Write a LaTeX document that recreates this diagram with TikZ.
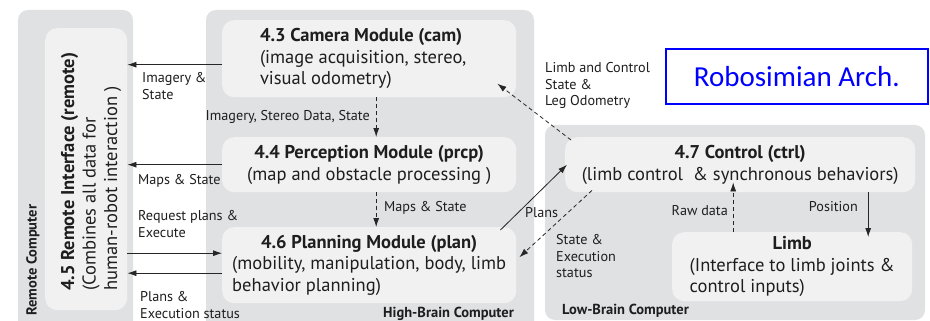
\documentclass[tikz,border=0pt]{standalone}
\usepackage{fontspec}
\setmainfont{PT Sans}
\newfontfamily\calib{Carlito}
\usetikzlibrary{arrows.meta,calc}
\definecolor{outerg}{HTML}{E0E1E3}
\definecolor{innerg}{HTML}{F1F1F2}
\definecolor{txt}{HTML}{1E1E1E}
\tikzset{
  outerbox/.style={fill=outerg,draw=none,rounded corners=10pt},
  innerbox/.style={fill=innerg,draw=none,rounded corners=12pt,anchor=north west,inner sep=0pt,text=txt},
  boxtext/.style={font=\fontsize{18.5}{21.5}\selectfont,text=txt},
  lbl/.style={font=\fontsize{14.2}{16.8}\selectfont,text=txt,inner sep=0pt,align=left},
  complbl/.style={font=\fontsize{14.5}{16}\selectfont\bfseries,text=txt,inner sep=0pt},
  arr/.style={draw=black!85,line width=0.8pt,-{Latex[length=9pt,width=6pt]}},
  darr/.style={arr,dash pattern=on 4pt off 3pt},
}
\newcommand\ttl[1]{{\bfseries #1}}
\begin{document}
\begin{tikzpicture}[x=1pt,y=-1pt]
\clip (0,0) rectangle (930,321);
\fill[white] (0,0) rectangle (930,321);
% outer computers
\path[outerbox] (18,10) rectangle (133,335);
\path[outerbox] (206,10) rectangle (534,335);
\path[outerbox] (545,125) rectangle (925,320);
% inner modules
\node[innerbox,minimum width=82pt,minimum height=282pt] (rem) at (45,28) {};
\node[boxtext,rotate=90,align=left,anchor=west,inner sep=0pt] (remt) at (91,291) {\ttl{4.5 Remote Interface (remote)}\\(Combines all data for\\human-robot interaction )};
\node[innerbox,minimum width=294pt,minimum height=77pt] (cam) at (222,20) {};
\node[boxtext,align=left] (camt) at ([xshift=-6pt]cam.center) {\ttl{4.3 Camera Module (cam)}\\(image acquisition, stereo,\\visual odometry)};
\node[innerbox,minimum width=294pt,minimum height=55pt] (prcp) at (222,137) {};
\node[boxtext,align=center] (prcpt) at (prcp.center) {\ttl{4.4 Perception Module (prcp)}\\(map and obstacle processing )};
\node[innerbox,minimum width=294pt,minimum height=76pt] (plan) at (222,227) {};
\node[boxtext] (plant) at (plan.center) {\begin{tabular}{@{}l@{}}\multicolumn{1}{@{}c@{}}{\ttl{4.6 Planning Module (plan)}}\\(mobility, manipulation, body, limb\\behavior planning)\end{tabular}};
\node[innerbox,minimum width=350pt,minimum height=55pt] (ctrl) at (565,137) {};
\node[boxtext,align=center] (ctrlt) at (ctrl.center) {\ttl{4.7 Control (ctrl)}\\(limb control \ \& synchronous behaviors)};
\node[innerbox,minimum width=240pt,minimum height=69pt] (limb) at (672,232) {};
\node[boxtext] (limbt) at (limb.center) {\begin{tabular}{@{}l@{}}\multicolumn{1}{@{}c@{}}{\ttl{Limb}}\\(Interface to limb joints \&\\control inputs)\end{tabular}};
% computer labels
\node[complbl,rotate=90,anchor=west] (rcl) at (33,316) {Remote Computer};
\node[complbl,anchor=west] (hbl) at (383,314) {High-Brain Computer};
\node[complbl,anchor=west] (lbl) at (562,311) {Low-Brain Computer};
% title box
\node[draw={rgb,255:red,0;green,0;blue,255},line width=1.6pt,minimum width=262pt,minimum height=55pt,anchor=north west,inner sep=0pt,text={rgb,255:red,0;green,0;blue,255},font=\calib\fontsize{29}{34}\selectfont] (title) at (665,48) {Robosimian Arch.};
% arrows
\draw[arr] ([yshift=-6pt]cam.west) -- ([yshift=-6pt]cam.west -| rem.east);
\draw[arr] (prcp.west) -- (prcp.west -| rem.east);
\draw[arr] ([yshift=12pt]plan.west -| rem.east) -- ([yshift=12pt]plan.west);
\draw[arr] ([yshift=-8pt]plan.west) -- ([yshift=-8pt]plan.west -| rem.east);
\draw[darr] ([xshift=7pt]cam.south) -- ([xshift=7pt]prcp.north);
\draw[darr] ([xshift=7pt]prcp.south) -- ([xshift=7pt]plan.north);
\draw[darr] ([shift={(6pt,-3pt)}]ctrl.north west) -- ([shift={(-19pt,-25pt)}]cam.east);
\draw[arr] ([shift={(-16pt,-3pt)}]plan.north east) -- ([xshift=2pt]ctrl.west);
\draw[darr] ([shift={(27pt,2pt)}]ctrl.south west) -- ([shift={(3pt,8pt)}]plan.east);
\draw[darr] ([xshift=-59pt]limb.north) -- ([xshift=-59pt,yshift=10pt]limb.north |- ctrl.south);
\draw[arr] ([xshift=76pt]limb.north |- ctrl.south) -- ([xshift=76pt,yshift=-5pt]limb.north);
% labels
\node[lbl,anchor=north west] (l1) at (142,72) {Imagery \&\\State};
\node[lbl,anchor=west] (l2) at (138,181) {Maps \& State};
\node[lbl,anchor=north west] (l3) at (138,210) {Request plans \&\\Execute};
\node[lbl,anchor=north west] (l4) at (140,291) {Plans \&\\Execution status};
\node[lbl,anchor=east] (l5) at (370,117) {Imagery, Stereo Data, State};
\node[lbl,anchor=west] (l6) at (384,208) {Maps \& State};
\node[lbl,anchor=north west] (l7) at (545,62) {Limb and Control\\State \&\\Leg Odometry};
\node[lbl,anchor=west] (l8) at (525,213) {Plans};
\node[lbl,anchor=north west] (l9) at (556,234) {State \&\\Execution\\status};
\node[lbl,anchor=east] (l10) at (728,211) {Raw data};
\node[lbl,anchor=east] (l11) at (858,207) {Position};
\end{tikzpicture}
\end{document}
